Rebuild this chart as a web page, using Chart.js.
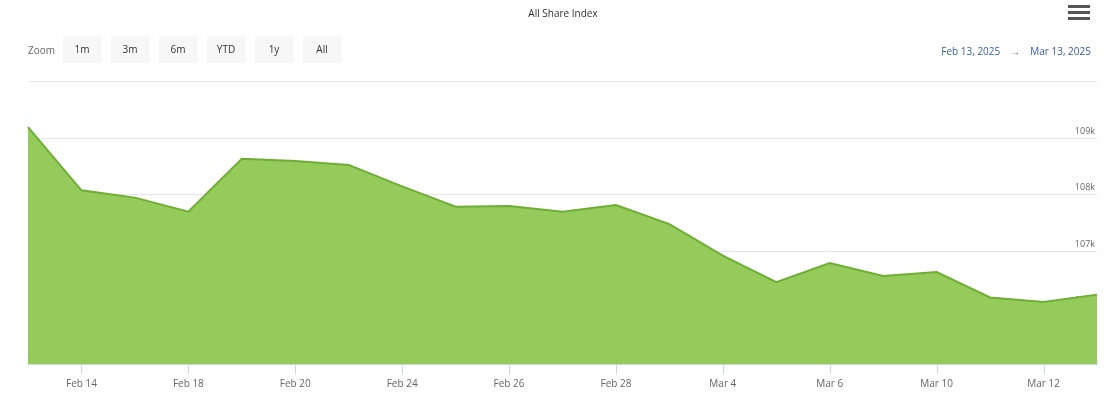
<!DOCTYPE html>
<html>
<head>
<meta charset="utf-8">
<script src="https://cdn.jsdelivr.net/npm/chart.js@4"></script>
<style>
  body { margin: 0; width: 1120px; height: 418px; position: relative; font-family: "Open Sans", sans-serif; background: #fff; overflow: hidden; }
  #titulo { position: absolute; top: 6px; left: 0; width: 1126px; text-align: center; font-size: 10px; color: #333; }
  #zoom { position: absolute; top: 36px; left: 28px; font-size: 10px; color: #666; display: flex; align-items: center; }
  #zoom span.btn { display: inline-block; background: #f7f7f7; width: 38px; height: 27px; line-height: 27px; text-align: center; margin-left: 10px; color: #333; }
  #zoom span.btn:first-of-type { margin-left: 8px; }
  #rango { position: absolute; top: 44px; right: 29px; font-size: 10px; color: #335cad; }
  #rango .flecha { color: #555; margin: 0 10px; }
  #menu { position: absolute; top: 5px; right: 30px; width: 22px; }
  #menu div { height: 3px; background: #555; margin-bottom: 3px; }
  #sep { position: absolute; top: 81px; left: 28px; width: 1069px; height: 1px; background: #e6e6e6; }
  #lienzo { position: absolute; top: 0; left: 0; }
</style>
</head>
<body>
<canvas id="lienzo" width="1120" height="418"></canvas>
<div id="titulo">All Share Index</div>
<div id="zoom">Zoom<span class="btn">1m</span><span class="btn">3m</span><span class="btn">6m</span><span class="btn">YTD</span><span class="btn">1y</span><span class="btn">All</span></div>
<div id="rango">Feb 13, 2025<span class="flecha">→</span>Mar 13, 2025</div>
<div id="menu"><div></div><div></div><div></div></div>
<div id="sep"></div>
<script>
// Días de negociación (sin fines de semana)
const fechas = ['Feb 13', 'Feb 14', 'Feb 17', 'Feb 18', 'Feb 19', 'Feb 20', 'Feb 21', 'Feb 24', 'Feb 25', 'Feb 26', 'Feb 27',
    'Feb 28', 'Mar 3', 'Mar 4', 'Mar 5', 'Mar 6', 'Mar 7', 'Mar 10', 'Mar 11', 'Mar 12', 'Mar 13'];
const valores = [109200, 108080, 107950, 107700, 108640, 108600, 108530, 108150, 107790, 107800, 107700,
    107820, 107480, 106920, 106450, 106790, 106560, 106630, 106180, 106100, 106230];
const etiquetasY = { 105000: '105k', 106000: '106k', 107000: '107k', 108000: '108k', 109000: '109k' };

const ctx = document.getElementById('lienzo').getContext('2d');
new Chart(ctx, {
    type: 'line',
    data: {
        labels: fechas,
        datasets: [{
            data: valores,
            borderColor: '#6eae34',
            backgroundColor: '#95cb5b',
            borderWidth: 2,
            fill: 'start',
            pointRadius: 0,
            tension: 0
        }]
    },
    options: {
        responsive: false,
        animation: false,
        layout: { padding: { top: 82, left: 28, right: 23, bottom: 14 } },
        plugins: { legend: { display: false }, tooltip: { enabled: false } },
        scales: {
            x: {
                offset: false,
                grid: { display: false, drawTicks: false },
                border: { color: '#ccd6eb' },
                ticks: {
                    autoSkip: false, maxRotation: 0, color: '#666', font: { family: 'Open Sans', size: 10 }, padding: 14,
                    callback: (v, i) => i % 2 === 1 && i !== 3 - 1 ? fechas[i] : ''
                }
            },
            y: {
                position: 'right',
                min: 105000, max: 110000,
                afterBuildTicks: eje => { eje.ticks = Object.keys(etiquetasY).map(v => ({ value: +v })); },
                grid: { color: '#e6e6e6', drawTicks: false },
                border: { display: false },
                ticks: {
                    mirror: true, padding: -2, labelOffset: -7, color: '#666', font: { family: 'Open Sans', size: 9 },
                    callback: v => etiquetasY[v]
                }
            }
        }
    },
    plugins: [{
        // marcas cortas bajo el eje x en las fechas etiquetadas
        id: 'marcas',
        afterDraw(chart) {
            const c = chart.ctx, x = chart.scales.x, y0 = chart.chartArea.bottom;
            c.save();
            c.strokeStyle = '#ccd6eb';
            c.lineWidth = 1;
            fechas.forEach((f, i) => {
                if (i % 2 !== 1) return;
                const px = Math.round(x.getPixelForValue(i)) + 0.5;
                c.beginPath(); c.moveTo(px, y0); c.lineTo(px, y0 + 10); c.stroke();
            });
            c.restore();
        }
    }]
});
</script>
</body>
</html>
